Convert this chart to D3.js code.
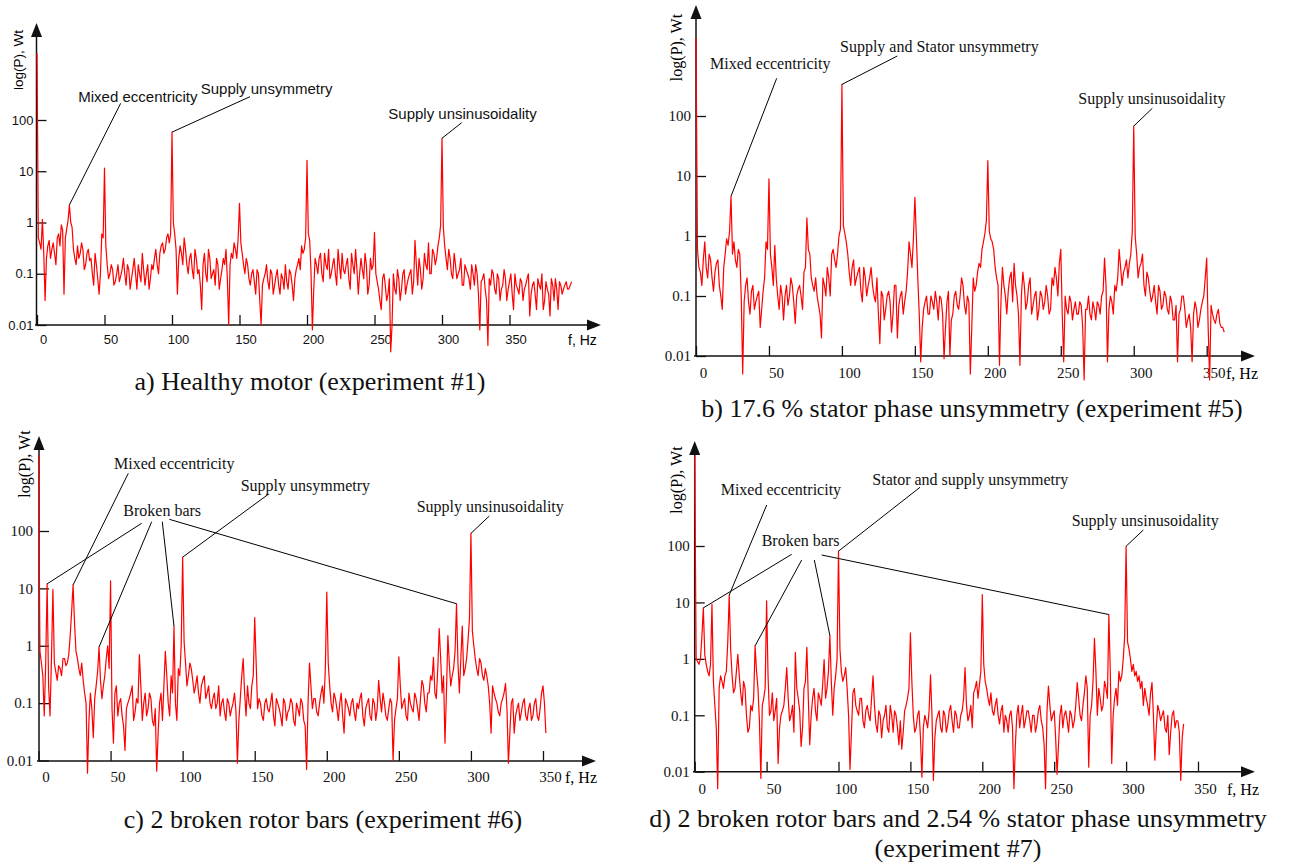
<!DOCTYPE html>
<html>
<head>
<meta charset="utf-8">
<script src="https://cdn.jsdelivr.net/npm/d3@7"></script>
<style>
  body { margin: 0; background: #fff; }
  svg { display: block; }
</style>
</head>
<body>
<div id="chart"></div>
<script>

// spectra, power in Wt
// "even" arrays: f = 0, 2, 4 ... Hz ; "odd" arrays: f = 1, 3, 5 ... Hz
const valuesAEven = [
    2000, 0.4, 1.15, 0.03, 0.35, 0.2, 0.4, 0.15, 0.6, 0.9,
    0.04, 0.75, 2.2, 0.8, 0.2, 0.35, 0.25, 0.3, 0.15, 0.3,
    0.2, 0.06, 0.15, 0.04, 0.6, 11.5, 0.15, 0.1, 0.12, 0.07,
    0.15, 0.09, 0.2, 0.06, 0.12, 0.08, 0.2, 0.05, 0.1, 0.25,
    0.06, 0.15, 0.08, 0.12, 0.3, 0.1, 0.35, 0.25, 0.5, 0.4,
    58, 0.6, 0.04, 0.35, 0.15, 0.3, 0.1, 0.25, 0.08, 0.2,
    0.12, 0.02, 0.25, 0.07, 0.2, 0.1, 0.06, 0.15, 0.08, 0.2,
    0.3, 0.01, 0.25, 0.4, 0.2, 2.36, 0.25, 0.1, 0.15, 0.06,
    0.12, 0.04, 0.1, 0.01, 0.08, 0.15, 0.05, 0.1, 0.06, 0.12,
    0.04, 0.08, 0.15, 0.05, 0.1, 0.03, 0.12, 0.2, 0.35, 0.3,
    16.4, 0.45, 0.008, 0.2, 0.1, 0.25, 0.07, 0.15, 0.3, 0.1,
    0.2, 0.06, 0.15, 0.25, 0.1, 0.2, 0.05, 0.15, 0.3, 0.04,
    0.2, 0.08, 0.15, 0.06, 0.12, 0.64, 0.07, 0.03, 0.08, 0.06,
    0.04, 0.003, 0.1, 0.04, 0.08, 0.05, 0.12, 0.06, 0.1, 0.04,
    0.45, 0.06, 0.12, 0.08, 0.15, 0.4, 0.1, 0.25, 0.2, 0.5,
    44, 0.35, 0.12, 0.2, 0.08, 0.15, 0.1, 0.2, 0.06, 0.12,
    0.08, 0.15, 0.06, 0.1, 0.008, 0.08, 0.05, 0.004, 0.06, 0.1,
    0.04, 0.08, 0.05, 0.12, 0.03, 0.07, 0.04, 0.1, 0.05, 0.08,
    0.03, 0.06, 0.1, 0.04, 0.07, 0.02, 0.06, 0.1, 0.03, 0.05,
    0.015, 0.06, 0.08, 0.02, 0.06, 0.05, 0.07, 0.05, 0.07
];
const valuesAOdd = [
    0.5, 0.3, 0.25, 0.2, 0.45, 0.3, 0.25, 0.5, 0.35, 0.7,
    0.5, 1.1, 1.0, 0.3, 0.15, 0.2, 0.4, 0.12, 0.25, 0.18,
    0.1, 0.25, 0.08, 0.1, 0.5, 0.35, 0.08, 0.15, 0.06, 0.1,
    0.07, 0.12, 0.1, 0.15, 0.05, 0.12, 0.1, 0.15, 0.07, 0.12,
    0.1, 0.05, 0.15, 0.2, 0.15, 0.25, 0.4, 0.3, 0.6, 0.6,
    1.0, 0.3, 0.2, 0.25, 0.5, 0.15, 0.2, 0.12, 0.3, 0.1,
    0.06, 0.15, 0.1, 0.3, 0.08, 0.12, 0.2, 0.05, 0.12, 0.15,
    0.08, 0.15, 0.2, 0.3, 0.5, 0.4, 0.15, 0.2, 0.08, 0.1,
    0.07, 0.12, 0.03, 0.06, 0.1, 0.07, 0.12, 0.04, 0.09, 0.06,
    0.1, 0.05, 0.07, 0.12, 0.06, 0.08, 0.15, 0.12, 0.25, 0.5,
    0.6, 0.1, 0.05, 0.15, 0.2, 0.1, 0.25, 0.12, 0.08, 0.15,
    0.1, 0.3, 0.08, 0.12, 0.15, 0.08, 0.25, 0.1, 0.12, 0.1,
    0.12, 0.25, 0.04, 0.2, 0.15, 0.1, 0.05, 0.02, 0.1, 0.03,
    0.08, 0.01, 0.05, 0.12, 0.03, 0.1, 0.04, 0.08, 0.12, 0.07,
    0.15, 0.2, 0.05, 0.25, 0.12, 0.1, 0.3, 0.15, 0.35, 0.9,
    0.8, 0.2, 0.3, 0.1, 0.25, 0.08, 0.12, 0.06, 0.15, 0.1,
    0.05, 0.1, 0.15, 0.04, 0.07, 0.1, 0.03, 0.08, 0.12, 0.05,
    0.1, 0.03, 0.06, 0.08, 0.05, 0.1, 0.02, 0.06, 0.04, 0.07,
    0.05, 0.08, 0.015, 0.06, 0.04, 0.08, 0.05, 0.02, 0.07, 0.04,
    0.08, 0.03, 0.05, 0.07, 0.04, 0.06, 0.05, 0.06
];

const valuesBEven = [
    2000, 0.3, 0.15, 0.8, 0.2, 0.4, 0.12, 0.35, 0.15, 0.06,
    0.5, 0.7, 4.6, 0.8, 0.3, 0.5, 0.005, 0.15, 0.08, 0.12,
    0.06, 0.1, 0.03, 0.12, 0.8, 9, 0.3, 0.7, 0.1, 0.15,
    0.04, 0.15, 0.1, 0.15, 0.035, 0.13, 0.1, 0.25, 2.0, 0.5,
    0.15, 0.2, 0.07, 0.02, 0.15, 0.3, 0.1, 0.6, 0.3, 1.0,
    336, 1.1, 0.5, 0.15, 0.4, 0.2, 0.3, 0.08, 0.2, 0.15,
    0.3, 0.1, 0.2, 0.016, 0.1, 0.06, 0.12, 0.025, 0.15, 0.02,
    0.1, 0.05, 0.12, 0.8, 0.3, 4.4, 0.2, 0.008, 0.06, 0.1,
    0.05, 0.08, 0.12, 0.04, 0.09, 0.009, 0.08, 0.01, 0.05, 0.12,
    0.06, 0.2, 0.07, 0.1, 0.005, 0.2, 0.15, 0.35, 0.6, 1.1,
    18, 0.9, 0.6, 0.2, 0.007, 0.3, 0.1, 0.12, 0.25, 0.35,
    0.1, 0.007, 0.25, 0.06, 0.15, 0.05, 0.1, 0.04, 0.12, 0.06,
    0.15, 0.05, 0.2, 0.3, 0.1, 0.6, 0.008, 0.06, 0.1, 0.04,
    0.08, 0.05, 0.07, 0.004, 0.06, 0.05, 0.08, 0.04, 0.07, 0.1,
    0.43, 0.008, 0.1, 0.05, 0.12, 0.6, 0.15, 0.3, 0.2, 0.5,
    68, 0.5, 0.3, 0.5, 0.1, 0.2, 0.08, 0.15, 0.05, 0.12,
    0.07, 0.1, 0.05, 0.08, 0.04, 0.008, 0.06, 0.1, 0.03, 0.05,
    0.008, 0.08, 0.03, 0.06, 0.1, 0.43, 0.004, 0.05, 0.035, 0.06,
    0.03, 0.025
];
const valuesBOdd = [
    0.6, 0.25, 0.4, 0.3, 0.5, 0.2, 0.25, 0.4, 0.1, 0.3,
    0.9, 1.2, 0.5, 0.4, 0.6, 0.1, 0.08, 0.2, 0.05, 0.15,
    0.08, 0.12, 0.06, 0.2, 0.6, 0.5, 0.15, 0.2, 0.06, 0.1,
    0.1, 0.07, 0.2, 0.08, 0.1, 0.15, 0.06, 0.3, 0.6, 0.2,
    0.12, 0.1, 0.05, 0.2, 0.1, 0.2, 0.5, 0.4, 0.5, 1.3,
    1.5, 0.8, 0.25, 0.3, 0.15, 0.25, 0.12, 0.3, 0.1, 0.2,
    0.15, 0.08, 0.05, 0.12, 0.04, 0.1, 0.08, 0.05, 0.15, 0.07,
    0.12, 0.08, 0.25, 0.5, 0.9, 1.0, 0.05, 0.03, 0.08, 0.05,
    0.1, 0.06, 0.08, 0.1, 0.05, 0.03, 0.12, 0.04, 0.1, 0.07,
    0.1, 0.15, 0.05, 0.08, 0.03, 0.12, 0.25, 0.3, 0.8, 1.8,
    1.2, 0.8, 0.3, 0.15, 0.08, 0.15, 0.05, 0.2, 0.08, 0.15,
    0.05, 0.1, 0.15, 0.08, 0.2, 0.07, 0.12, 0.06, 0.1, 0.08,
    0.1, 0.06, 0.15, 0.2, 0.35, 0.05, 0.1, 0.05, 0.08, 0.06,
    0.05, 0.08, 0.03, 0.06, 0.1, 0.04, 0.06, 0.08, 0.05, 0.12,
    0.15, 0.06, 0.08, 0.15, 0.2, 0.3, 0.25, 0.4, 0.35, 1.2,
    1.0, 0.2, 0.35, 0.15, 0.25, 0.12, 0.1, 0.08, 0.15, 0.06,
    0.12, 0.06, 0.1, 0.04, 0.07, 0.05, 0.1, 0.06, 0.04, 0.03,
    0.05, 0.06, 0.04, 0.08, 0.2, 0.03, 0.07, 0.04, 0.05, 0.035,
    0.03
];

const valuesCEven = [
    2100, 0.5, 0.06, 12, 0.06, 9.6, 0.35, 0.45, 0.3, 0.6,
    0.5, 1.5, 11.5, 0.8, 0.4, 0.5, 0.15, 0.006, 0.15, 0.025,
    0.2, 0.95, 0.12, 0.3, 1.0, 13.5, 0.02, 0.2, 0.1, 0.06,
    0.015, 0.1, 0.15, 0.05, 0.12, 0.7, 0.05, 0.15, 0.08, 0.12,
    0.04, 0.0065, 0.1, 0.05, 0.8, 0.1, 0.3, 2.2, 0.05, 0.3,
    35, 0.5, 0.3, 0.4, 0.15, 0.3, 0.1, 0.25, 0.12, 0.2,
    0.08, 0.15, 0.1, 0.06, 0.12, 0.05, 0.1, 0.08, 0.15, 0.009,
    0.12, 0.6, 0.06, 0.1, 0.2, 3.1, 0.08, 0.1, 0.05, 0.12,
    0.07, 0.15, 0.04, 0.1, 0.06, 0.12, 0.05, 0.08, 0.1, 0.04,
    0.08, 0.12, 0.05, 0.007, 0.5, 0.08, 0.12, 0.06, 0.15, 0.1,
    8.6, 0.2, 0.07, 0.12, 0.05, 0.15, 0.03, 0.1, 0.06, 0.12,
    0.05, 0.08, 0.15, 0.04, 0.1, 0.06, 0.12, 0.05, 0.25, 0.07,
    0.1, 0.05, 0.12, 0.01, 0.08, 0.64, 0.08, 0.12, 0.05, 0.1,
    0.07, 0.12, 0.05, 0.25, 0.1, 0.15, 0.3, 0.63, 0.12, 2.0,
    0.15, 0.02, 1.5, 0.2, 0.4, 5.4, 0.15, 2.2, 0.4, 1.25,
    91, 1.0, 0.4, 0.6, 0.3, 0.4, 0.2, 0.03, 0.15, 0.1,
    0.06, 0.12, 0.22, 0.009, 0.1, 0.03, 0.08, 0.05, 0.1, 0.06,
    0.08, 0.05, 0.1, 0.06, 0.08, 0.2, 0.03
];
const valuesCOdd = [
    0.8, 0.3, 0.5, 0.2, 0.6, 0.5, 0.25, 0.4, 0.6, 0.45,
    0.7, 4, 2.5, 0.6, 0.3, 0.25, 0.1, 0.05, 0.08, 0.12,
    0.35, 0.25, 0.2, 0.6, 0.4, 0.08, 0.15, 0.06, 0.12, 0.04,
    0.08, 0.12, 0.2, 0.07, 0.1, 0.2, 0.1, 0.06, 0.15, 0.05,
    0.08, 0.03, 0.15, 0.2, 0.3, 0.06, 0.15, 0.1, 0.4, 1.0,
    1.2, 0.2, 0.5, 0.25, 0.2, 0.15, 0.2, 0.3, 0.15, 0.1,
    0.12, 0.08, 0.2, 0.1, 0.07, 0.12, 0.06, 0.1, 0.07, 0.05,
    0.3, 0.15, 0.2, 0.08, 0.3, 0.5, 0.12, 0.06, 0.1, 0.08,
    0.1, 0.06, 0.12, 0.08, 0.04, 0.1, 0.07, 0.12, 0.05, 0.1,
    0.06, 0.1, 0.04, 0.1, 0.2, 0.12, 0.07, 0.1, 0.2, 0.4,
    0.5, 0.1, 0.15, 0.08, 0.1, 0.06, 0.12, 0.08, 0.1, 0.07,
    0.1, 0.12, 0.06, 0.08, 0.12, 0.05, 0.1, 0.08, 0.12, 0.15,
    0.06, 0.08, 0.1, 0.05, 0.12, 0.2, 0.1, 0.06, 0.15, 0.08,
    0.15, 0.08, 0.12, 0.2, 0.07, 0.15, 0.25, 0.15, 0.4, 0.6,
    0.3, 0.15, 0.5, 0.3, 0.8, 0.5, 0.6, 0.3, 0.6, 3,
    1.8, 0.6, 0.3, 0.5, 0.25, 0.3, 0.1, 0.2, 0.12, 0.07,
    0.1, 0.15, 0.08, 0.03, 0.12, 0.06, 0.1, 0.07, 0.12, 0.05,
    0.1, 0.06, 0.12, 0.05, 0.15, 0.1
];

const valuesDEven = [
    4000, 0.9, 1.0, 8, 0.8, 0.5, 9.3, 0.15, 0.005, 0.5,
    0.3, 0.6, 13.5, 0.5, 0.3, 1.2, 0.25, 0.4, 0.1, 0.06,
    0.12, 1.7, 0.3, 0.0076, 0.2, 10.7, 0.1, 0.25, 0.12, 0.014,
    0.1, 0.15, 0.7, 0.08, 0.15, 1.3, 0.2, 0.028, 0.3, 1.6,
    0.03, 0.2, 0.12, 0.25, 0.15, 0.97, 0.3, 2.6, 0.1, 0.5,
    81, 0.6, 0.5, 0.3, 0.011, 0.25, 0.15, 0.1, 0.2, 0.06,
    0.15, 0.08, 0.5, 0.07, 0.12, 0.04, 0.1, 0.06, 0.15, 0.05,
    0.1, 0.03, 0.025, 0.12, 0.2, 2.9, 0.1, 0.06, 0.12, 0.008,
    0.1, 0.06, 0.52, 0.007, 0.08, 0.12, 0.05, 0.1, 0.07, 0.15,
    0.05, 0.1, 0.06, 0.12, 0.7, 0.08, 0.15, 0.25, 0.4, 0.35,
    13.8, 0.4, 0.2, 0.25, 0.1, 0.2, 0.07, 0.15, 0.1, 0.05,
    0.12, 0.005, 0.1, 0.06, 0.15, 0.08, 0.12, 0.05, 0.1, 0.07,
    0.15, 0.06, 0.005, 0.33, 0.08, 0.12, 0.009, 0.1, 0.06, 0.12,
    0.05, 0.1, 0.08, 0.38, 0.1, 0.15, 0.5, 0.012, 0.15, 2.3,
    0.1, 0.2, 0.15, 0.3, 6.1, 0.014, 0.2, 0.15, 0.4, 1.0,
    99, 1.5, 0.6, 0.5, 0.4, 0.3, 0.15, 0.2, 0.1, 0.38,
    0.016, 0.15, 0.08, 0.12, 0.05, 0.02, 0.1, 0.06, 0.08, 0.007,
    0.07
];
const valuesDOdd = [
    1.0, 0.8, 2.5, 1.2, 0.6, 0.8, 0.4, 0.06, 0.3, 0.4,
    0.5, 2.0, 1.5, 0.25, 0.6, 0.5, 0.15, 0.3, 0.05, 0.15,
    0.2, 0.6, 0.08, 0.15, 0.3, 0.5, 0.12, 0.08, 0.2, 0.06,
    0.12, 0.3, 0.2, 0.1, 0.05, 0.3, 0.12, 0.06, 0.4, 0.2,
    0.1, 0.3, 0.08, 0.2, 0.35, 0.2, 0.6, 0.4, 0.3, 1.0,
    1.5, 0.4, 0.7, 0.1, 0.05, 0.3, 0.12, 0.2, 0.08, 0.12,
    0.1, 0.2, 0.15, 0.05, 0.1, 0.08, 0.15, 0.05, 0.1, 0.12,
    0.06, 0.08, 0.05, 0.15, 0.3, 0.4, 0.05, 0.1, 0.04, 0.06,
    0.08, 0.12, 0.1, 0.04, 0.1, 0.06, 0.12, 0.05, 0.12, 0.08,
    0.12, 0.06, 0.1, 0.2, 0.15, 0.1, 0.06, 0.3, 0.2, 0.6,
    0.8, 0.3, 0.15, 0.12, 0.15, 0.1, 0.12, 0.05, 0.08, 0.1,
    0.06, 0.03, 0.15, 0.1, 0.06, 0.12, 0.08, 0.1, 0.05, 0.12,
    0.08, 0.03, 0.12, 0.15, 0.1, 0.04, 0.03, 0.15, 0.1, 0.08,
    0.12, 0.06, 0.15, 0.2, 0.08, 0.25, 0.3, 0.1, 0.4, 0.6,
    0.3, 0.12, 0.4, 0.2, 0.6, 0.1, 0.3, 0.6, 0.5, 2.5,
    2.0, 1.0, 0.8, 0.6, 0.5, 0.4, 0.3, 0.15, 0.25, 0.1,
    0.06, 0.12, 0.1, 0.06, 0.1, 0.05, 0.12, 0.08, 0.05, 0.04
];

const xTickValues = [0, 50, 100, 150, 200, 250, 300, 350];
const yTickValues = [0.01, 0.1, 1, 10, 100];
const yTickLabels = ["0.01", "0.1", "1", "10", "100"];

const SANS = "'Liberation Sans', Arial, sans-serif";
const SERIF = "'Liberation Serif', 'Times New Roman', serif";

// layout of the four panels (pixels)
const panels = [
    {
        even: valuesAEven, odd: valuesAOdd, font: SANS, tickFont: 13, annFont: 15, labelFont: 13.5,
        xRange: [37, 509.5], yRange: [325, 120], axisX: 36.5, axisY: 325,
        xStart: 35, arrowX: 601, yTop: 23, xPad: 10, yPad: 3, labelShift: 6,
        ylabel: [18.3, 60], unit: [568, 340],
        notes: [
            { text: "Mixed eccentricity", at: [78.3, 96.7], from: [[120.7, 103.3]], to: [24] },
            { text: "Supply unsymmetry", at: [200.7, 88.3], from: [[250, 96.7]], to: [100] },
            { text: "Supply unsinusoidality", at: [388.3, 113.3], from: [[461.7, 122.7]], to: [300] }
        ]
    },
    {
        even: valuesBEven, odd: valuesBOdd, font: SERIF, tickFont: 15, annFont: 16, labelFont: 16,
        xRange: [696, 1206.7], yRange: [356, 116], axisX: 696, axisY: 356,
        xStart: 694, arrowX: 1255, yTop: 5, xPad: 11.5, yPad: 5, labelShift: 7,
        ylabel: [676.7, 47.5], unit: [1226, 373.3],
        notes: [
            { text: "Mixed eccentricity", at: [710, 63.3], from: [[776.7, 78.3]], to: [24] },
            { text: "Supply and Stator unsymmetry", at: [840, 46.7], from: [[897.3, 56]], to: [100] },
            { text: "Supply unsinusoidality", at: [1078.3, 98.3], from: [[1152.3, 108.3]], to: [300] }
        ]
    },
    {
        even: valuesCEven, odd: valuesCOdd, font: SERIF, tickFont: 15, annFont: 16, labelFont: 16,
        xRange: [38.5, 543], yRange: [760.5, 531], axisX: 39, axisY: 761,
        xStart: 37, arrowX: 596, yTop: 436, xPad: 10.5, yPad: 6, labelShift: 7,
        ylabel: [24, 464], unit: [565, 777],
        notes: [
            { text: "Mixed eccentricity", at: [114, 463.3], from: [[128.3, 473.3]], to: [24] },
            { text: "Broken bars", at: [123.3, 510],
              from: [[141.7, 523.3], [151.7, 521.7], [162.3, 521.7], [169.3, 519.3]], to: [6, 42, 94, 290] },
            { text: "Supply unsymmetry", at: [240.7, 485], from: [[268.3, 494.3]], to: [100] },
            { text: "Supply unsinusoidality", at: [416.7, 506], from: [[489.3, 516]], to: [300] }
        ]
    },
    {
        even: valuesDEven, odd: valuesDOdd, font: SERIF, tickFont: 15, annFont: 16, labelFont: 16,
        xRange: [694.7, 1198], yRange: [771.7, 546], axisX: 694.7, axisY: 771.7,
        xStart: 693, arrowX: 1255, yTop: 441, xPad: 11.5, yPad: 5, labelShift: 7,
        ylabel: [676.7, 480], unit: [1227, 789],
        notes: [
            { text: "Mixed eccentricity", at: [720.7, 489], from: [[766.7, 505]], to: [24] },
            { text: "Broken bars", at: [761.7, 540],
              from: [[791.7, 554.3], [801.7, 560], [814.3, 560], [821.7, 555]], to: [6, 42, 94, 288] },
            { text: "Stator and supply unsymmetry", at: [872.3, 479.3], from: [[920, 487.3]], to: [100] },
            { text: "Supply unsinusoidality", at: [1071.7, 520], from: [[1143.3, 530]], to: [300] }
        ]
    }
];

const captions = [
    { text: "a) Healthy motor (experiment #1)", x: 310, y: 381 },
    { text: "b) 17.6 % stator phase unsymmetry (experiment #5)", x: 972, y: 408 },
    { text: "c) 2 broken rotor bars (experiment #6)", x: 323, y: 819 },
    { text: "d) 2 broken rotor bars and 2.54 % stator phase unsymmetry", x: 958, y: 818 },
    { text: "(experiment #7)", x: 958, y: 848 }
];


class SpectrumPanel {

    constructor(_svg, _cfg) {
        this.svg = _svg;
        this.cfg = _cfg;

        let even = _cfg.even.map((v, i) => ({ f: 2 * i, p: v }));
        let odd = _cfg.odd.map((v, i) => ({ f: 2 * i + 1, p: v }));
        this.data = even.concat(odd).sort((a, b) => a.f - b.f);

        this.initVis();
    }

    initVis() {
        let vis = this;
        let cfg = vis.cfg;

        vis.g = vis.svg.append("g").attr("font-family", cfg.font);

        vis.x = d3.scaleLinear()
            .domain([0, 350])
            .range(cfg.xRange);

        vis.y = d3.scaleLog()
            .domain([0.01, 100])
            .range(cfg.yRange);

        // ticks point into the plot, axis lines drawn by hand with arrows
        vis.xAxis = d3.axisBottom(vis.x)
            .tickValues(xTickValues)
            .tickSize(-10)
            .tickPadding(cfg.xPad)
            .tickFormat(d3.format("d"));

        vis.yAxis = d3.axisLeft(vis.y)
            .tickValues(yTickValues)
            .tickSize(-10)
            .tickPadding(cfg.yPad)
            .tickFormat((d, i) => yTickLabels[i]);

        let gx = vis.g.append("g")
            .attr("class", "x-axis axis")
            .attr("transform", "translate(0," + cfg.axisY + ")")
            .call(vis.xAxis);
        let gy = vis.g.append("g")
            .attr("class", "y-axis axis")
            .attr("transform", "translate(" + cfg.axisX + ",0)")
            .call(vis.yAxis);

        [gx, gy].forEach(a => {
            a.attr("font-family", null).attr("font-size", null).style("color", "#111");
            a.select(".domain").remove();
            a.selectAll("line").attr("stroke-width", 1.3);
            a.selectAll("text").style("font-size", cfg.tickFont + "px");
        });
        gx.selectAll("text").attr("dx", cfg.labelShift);

        let axisColor = "#111";
        let ah = 14, aw = 5.5;
        vis.g.append("line")
            .attr("x1", cfg.xStart).attr("x2", cfg.arrowX - ah)
            .attr("y1", cfg.axisY).attr("y2", cfg.axisY)
            .attr("stroke", axisColor).attr("stroke-width", 1.5);
        vis.g.append("path")
            .attr("d", `M${cfg.arrowX},${cfg.axisY} L${cfg.arrowX - ah},${cfg.axisY - aw} L${cfg.arrowX - ah},${cfg.axisY + aw} Z`)
            .attr("fill", axisColor);
        vis.g.append("line")
            .attr("x1", cfg.axisX).attr("x2", cfg.axisX)
            .attr("y1", cfg.axisY).attr("y2", cfg.yTop + ah)
            .attr("stroke", axisColor).attr("stroke-width", 1.5);
        vis.g.append("path")
            .attr("d", `M${cfg.axisX},${cfg.yTop} L${cfg.axisX - aw},${cfg.yTop + ah} L${cfg.axisX + aw},${cfg.yTop + ah} Z`)
            .attr("fill", axisColor);

        // axis titles
        vis.g.append("text")
            .attr("transform", `translate(${cfg.ylabel[0]},${cfg.ylabel[1]}) rotate(-90)`)
            .attr("text-anchor", "middle")
            .attr("dominant-baseline", "central")
            .style("font-size", cfg.labelFont + "px")
            .text("log(P), Wt");
        vis.g.append("text")
            .attr("x", cfg.unit[0])
            .attr("y", cfg.unit[1])
            .attr("dominant-baseline", "central")
            .style("font-size", cfg.tickFont + 1 + "px")
            .text("f, Hz");

        // spectrum
        vis.line = d3.line()
            .x(d => vis.x(d.f))
            .y(d => vis.y(d.p));

        vis.g.append("path")
            .datum(vis.data)
            .attr("fill", "none")
            .attr("stroke", "#ff0000")
            .attr("stroke-width", 1.2)
            .attr("stroke-linejoin", "round")
            .attr("d", vis.line);

        // annotations with leader lines to the peaks (peaks sit on even Hz)
        cfg.notes.forEach(n => {
            n.to.forEach((f, i) => {
                let p = cfg.even[f / 2];
                vis.g.append("line")
                    .attr("x1", n.from[i][0]).attr("y1", n.from[i][1])
                    .attr("x2", vis.x(f)).attr("y2", vis.y(p))
                    .attr("stroke", "#000")
                    .attr("stroke-width", 1);
            });
            vis.g.append("text")
                .attr("x", n.at[0])
                .attr("y", n.at[1])
                .attr("dominant-baseline", "central")
                .style("font-size", cfg.annFont + "px")
                .attr("fill", "#111")
                .text(n.text);
        });
    }
}


let svg = d3.select("#chart").append("svg")
    .attr("width", 1290)
    .attr("height", 863);

panels.forEach(p => new SpectrumPanel(svg, p));

svg.append("g")
    .attr("font-family", SERIF)
    .selectAll("text")
    .data(captions)
    .enter().append("text")
    .attr("x", d => d.x)
    .attr("y", d => d.y)
    .attr("text-anchor", "middle")
    .attr("dominant-baseline", "central")
    .style("font-size", "26px")
    .attr("fill", "#111")
    .text(d => d.text);

</script>
</body>
</html>
